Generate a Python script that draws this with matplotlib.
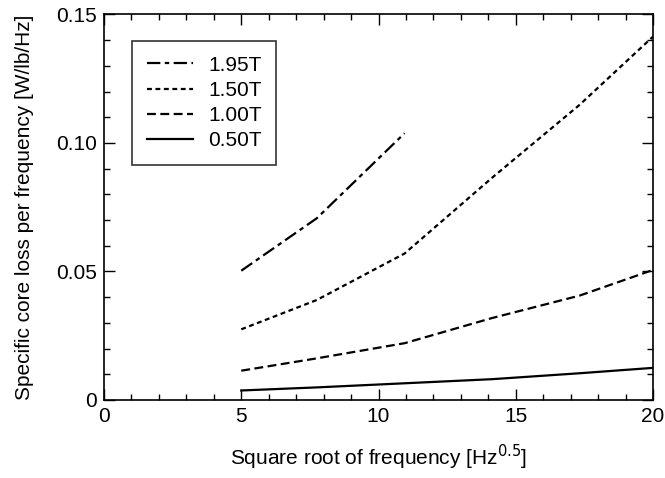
import matplotlib
matplotlib.use("Agg")
import matplotlib.pyplot as plt
from matplotlib.ticker import MultipleLocator, FixedFormatter, FixedLocator

plt.rcParams['font.family'] = ['Liberation Sans', 'DejaVu Sans']

# ── datos ──
x_195 = [5.0, 7.75, 10.95]
y_195 = [0.0503, 0.0707, 0.1038]

x_all = [5.0, 7.75, 10.95, 14.14, 17.32, 20.0]
y_150 = [0.0275, 0.0389, 0.0570, 0.0865, 0.1148, 0.1414]
y_100 = [0.0114, 0.0162, 0.0221, 0.0319, 0.0406, 0.0506]
y_050 = [0.0037, 0.0049, 0.0065, 0.0081, 0.0104, 0.0125]

etiquetas = ["1.95T", "1.50T", "1.00T", "0.50T"]
x_ticks = [0, 5, 10, 15, 20]
y_ticks = [0, 0.05, 0.10, 0.15]
y_tick_labels = ["0", "0.05", "0.10", "0.15"]

fig = plt.figure(figsize=(6.65, 4.78), dpi=100)
ax = fig.add_axes([0.1564, 0.1632, 0.8256, 0.8065])

lw = 1.6
ax.plot(x_195, y_195, color="black", lw=lw, dashes=(6, 2, 2, 2), label=etiquetas[0])
ax.plot(x_all, y_150, color="black", lw=lw, dashes=(2.2, 1.6), label=etiquetas[1])
ax.plot(x_all, y_100, color="black", lw=lw, dashes=(4, 2), label=etiquetas[2])
ax.plot(x_all, y_050, color="black", lw=lw, label=etiquetas[3])

ax.set_xlim(0, 20)
ax.set_ylim(0, 0.15)
ax.xaxis.set_major_locator(FixedLocator(x_ticks))
ax.xaxis.set_minor_locator(MultipleLocator(1))
ax.yaxis.set_major_locator(FixedLocator(y_ticks))
ax.yaxis.set_major_formatter(FixedFormatter(y_tick_labels))
ax.yaxis.set_minor_locator(MultipleLocator(0.01))

ax.tick_params(which="both", direction="in", top=True, right=True,
               labelsize=15, width=1.0, pad=5)
ax.tick_params(which="major", length=8)
ax.tick_params(which="minor", length=4.5)
for s in ax.spines.values():
    s.set_linewidth(1.2)

ax.set_xlabel("Square root of frequency [Hz$^{0.5}$]", fontsize=15, labelpad=12)
ax.set_ylabel("Specific core loss per frequency [W/lb/Hz]", fontsize=15, labelpad=16)

leg = ax.legend(loc="upper left", bbox_to_anchor=(0.051, 0.931), fontsize=15,
                frameon=True, fancybox=False, edgecolor="black",
                handlelength=2.25, handletextpad=0.7, borderpad=0.7,
                borderaxespad=0, labelspacing=0.3)
leg.get_frame().set_linewidth(1.2)

fig.savefig("out.png", dpi=100)
